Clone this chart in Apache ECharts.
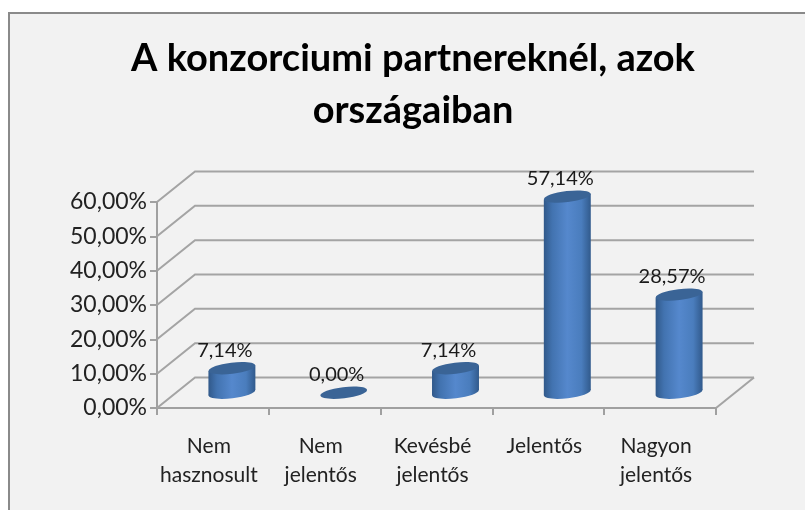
<!DOCTYPE html>
<html>
<head>
<meta charset="utf-8">
<style>
  html, body { margin: 0; padding: 0; background: #fff; }
  #chart { width: 805px; height: 510px; }
</style>
<script src="https://cdn.jsdelivr.net/npm/echarts@6/dist/echarts.min.js"></script>
</head>
<body>
<div id="chart"></div>
<script>
const titleText = 'A konzorciumi partnereknél, azok\nországaiban'
const categories = ['Nem\nhasznosult', 'Nem\njelentős', 'Kevésbé\njelentős', 'Jelentős', 'Nagyon\njelentős']
const shares = [7.14, 0, 7.14, 57.14, 28.57]
const yTicks = [0, 10, 20, 30, 40, 50, 60]
const yTickLabels = ['0,00%', '10,00%', '20,00%', '30,00%', '40,00%', '50,00%', '60,00%']

// fake 3d: how far the back wall sits from the front axes
const depthX = 38
const depthY = -30.5
const tilt = 0.12
const font = 'Lato, "Noto Sans", sans-serif'

const chart = echarts.init(document.getElementById('chart'))

function fmt(v) {
  return v.toFixed(2).replace('.', ',') + '%'
}

function renderWall(params, api) {
  const box = params.coordSys
  const y = api.coord([0, api.value(1)])[1]
  const right = box.x + box.width
  const lineStyle = { stroke: '#a4a4a4', lineWidth: 2, fill: null }
  const children = [{
    type: 'polyline',
    shape: { points: [[box.x, y], [box.x + depthX, y + depthY], [right + depthX, y + depthY]] },
    style: lineStyle
  }]
  if (api.value(1) === 0) {
    children.push({
      type: 'line',
      shape: { x1: right, y1: y, x2: right + depthX, y2: y + depthY },
      style: lineStyle
    })
  }
  return { type: 'group', children }
}

function renderCylinder(params, api) {
  const base = api.coord([api.value(0), 0])
  const top = api.coord([api.value(0), api.value(1)])
  const cx = base[0] + depthX / 2
  const baseY = base[1] + depthY / 2
  const topY = top[1] + depthY / 2
  const rx = api.size([1, 0])[0] * 0.21
  const ry = 5.5
  const lean = rx * Math.tan(tilt)
  const side = new echarts.graphic.LinearGradient(0, 0, 1, 0, [
    { offset: 0, color: '#31598a' },
    { offset: 0.18, color: '#4273b0' },
    { offset: 0.5, color: '#5588cd' },
    { offset: 0.8, color: '#4a7dbd' },
    { offset: 1, color: '#315a8c' }
  ])
  const children = []
  if (api.value(1) > 0) {
    children.push({
      type: 'ellipse',
      shape: { cx: cx, cy: baseY, rx: rx, ry: ry },
      originX: cx, originY: baseY, rotation: tilt,
      style: { fill: side }
    }, {
      type: 'polygon',
      shape: { points: [
        [cx - rx, topY + lean], [cx + rx, topY - lean],
        [cx + rx, baseY - lean], [cx - rx, baseY + lean]
      ] },
      style: { fill: side }
    })
  }
  children.push({
    type: 'ellipse',
    shape: { cx: cx, cy: topY, rx: rx, ry: ry },
    originX: cx, originY: topY, rotation: tilt,
    style: { fill: '#3a6496' }
  }, {
    type: 'text',
    style: {
      x: cx - 7,
      y: topY - 18,
      text: fmt(api.value(1)),
      font: '20px ' + font,
      fill: '#1a1a1a',
      align: 'center',
      verticalAlign: 'middle'
    }
  })
  return { type: 'group', children }
}

const option = {
  animation: false,
  backgroundColor: '#fff',
  graphic: [{
    type: 'rect',
    z: -10,
    shape: { x: 9, y: 13, width: 900, height: 600 },
    style: { fill: '#f2f2f2', stroke: '#8a8a8a', lineWidth: 2 }
  }],
  title: {
    text: titleText,
    left: 408,
    top: 28,
    textAlign: 'center',
    textStyle: {
      fontFamily: font,
      fontSize: 38,
      fontWeight: 'bold',
      lineHeight: 52,
      color: '#000'
    }
  },
  grid: { left: 157, top: 202, width: 559, height: 206 },
  xAxis: {
    type: 'category',
    data: categories,
    axisLine: { lineStyle: { color: '#a0a0a0', width: 2 } },
    axisTick: { show: true, length: 7, lineStyle: { color: '#a0a0a0', width: 2 } },
    axisLabel: {
      margin: 24,
      interval: 0,
      padding: [0, 8, 0, 0],
      fontFamily: font,
      fontSize: 21,
      lineHeight: 29,
      color: '#222'
    }
  },
  yAxis: {
    type: 'value',
    min: 0,
    max: 60,
    interval: 10,
    splitLine: { show: false },
    axisLine: { show: true, lineStyle: { color: '#a0a0a0', width: 2 } },
    axisTick: { show: true, length: 7, lineStyle: { color: '#a0a0a0', width: 2 } },
    axisLabel: {
      margin: 10,
      fontFamily: font,
      fontSize: 23,
      color: '#222',
      formatter: function (v, i) { return yTickLabels[i] }
    }
  },
  series: [
    {
      type: 'custom',
      clip: false,
      renderItem: renderWall,
      encode: { x: 0, y: 1 },
      data: yTicks.map(v => [0, v]),
      silent: true
    },
    {
      type: 'custom',
      clip: false,
      renderItem: renderCylinder,
      encode: { x: 0, y: 1 },
      data: shares.map((v, i) => [i, v])
    }
  ]
}
chart.setOption(option)
</script>
</body>
</html>
